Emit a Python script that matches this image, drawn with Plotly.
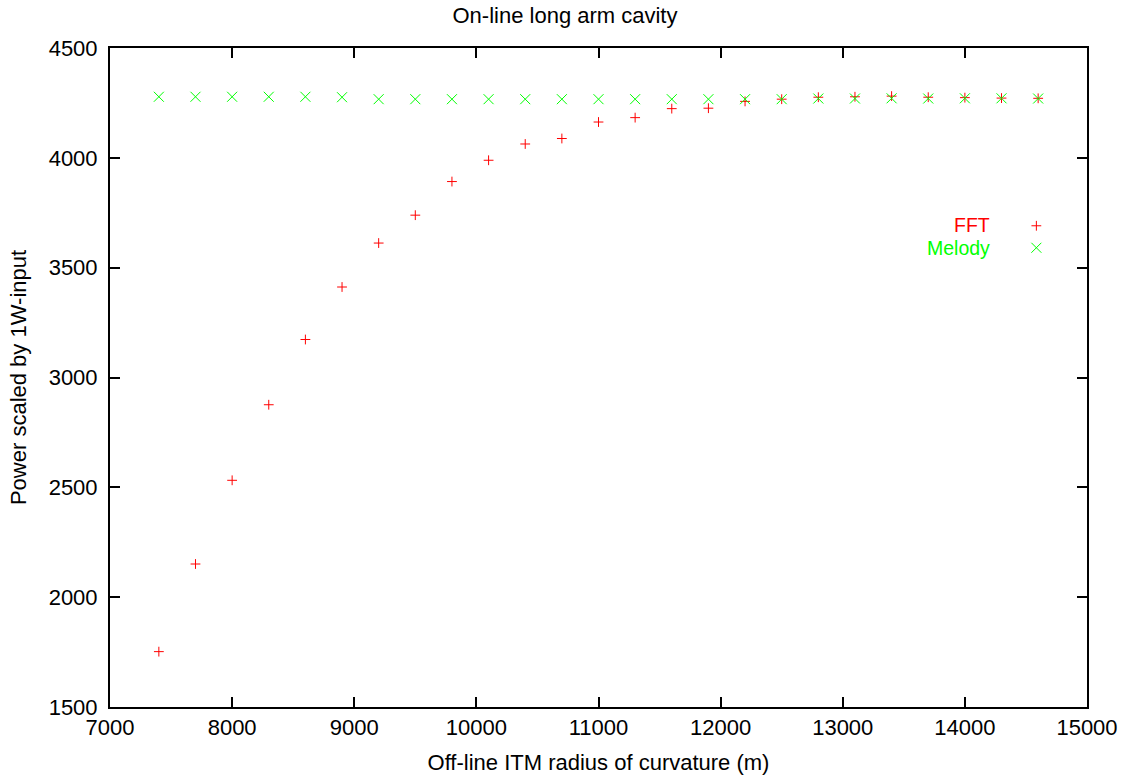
import plotly.graph_objects as go

# Data
radius_m = [7400, 7700, 8000, 8300, 8600, 8900, 9200, 9500, 9800, 10100,
            10400, 10700, 11000, 11300, 11600, 11900, 12200, 12500, 12800,
            13100, 13400, 13700, 14000, 14300, 14600]
fft_power = [1752, 2151, 2532, 2876, 3173, 3412, 3612, 3739, 3892, 3989,
             4063, 4088, 4163, 4183, 4224, 4226, 4257, 4267, 4276,
             4278, 4281, 4276, 4274, 4272, 4271]
melody_power = [4278, 4278, 4278, 4278, 4278, 4276, 4267, 4267, 4267, 4267,
                4267, 4267, 4267, 4267, 4267, 4267, 4267, 4267, 4270,
                4270, 4271, 4270, 4271, 4271, 4270]
series_names = ["FFT", "Melody"]
series_colors = ["#ff0000", "#00ff00"]
series_symbols = ["cross-thin", "x-thin"]
series_sizes = [7, 10]

FONT = "Liberation Sans, Arial, Helvetica, sans-serif"
FS = 22

fig = go.Figure()
for name, yv, col, sym, sz in zip(series_names, [fft_power, melody_power],
                                  series_colors, series_symbols, series_sizes):
    fig.add_trace(go.Scatter(
        x=radius_m, y=yv, mode="markers", name=name, showlegend=False,
        marker=dict(symbol=sym, size=sz, color=col, line=dict(color=col, width=1)),
    ))
    # legend sample (symbol only; label drawn as right-aligned text, gnuplot style)
    fig.add_trace(go.Scatter(
        x=[None], y=[None], mode="markers", name=" ", showlegend=True,
        hoverinfo="skip",
        marker=dict(symbol=sym, size=sz, color=col, line=dict(color=col, width=1)),
    ))

axis_common = dict(
    showline=True, linecolor="black", linewidth=2, mirror="ticks",
    ticks="inside", ticklen=10, tickwidth=1.5, tickcolor="black",
    showgrid=False, zeroline=False, tickformat="d",
    tickfont=dict(family=FONT, size=FS, color="black"),
)

fig.update_layout(
    width=1130, height=783,
    margin=dict(l=110, r=38, t=48, b=75),
    paper_bgcolor="white", plot_bgcolor="white",
    font=dict(family=FONT, size=FS, color="black"),
    title=dict(text="On-line long arm cavity", x=0.5, xanchor="center",
               y=1 - 15.5 / 783, yanchor="middle",
               font=dict(family=FONT, size=FS, color="black")),
    xaxis=dict(range=[7000, 15000], dtick=1000, tick0=7000,
               title=dict(text="Off-line ITM radius of curvature (m)",
                          font=dict(family=FONT, size=FS, color="black"),
                          standoff=15),
               **axis_common),
    yaxis=dict(range=[1500, 4500], dtick=500, tick0=1500,
               ticklabelstandoff=6,
               title=dict(text="Power scaled by 1W-input",
                          font=dict(family=FONT, size=FS, color="black"),
                          standoff=16),
               **axis_common),
    legend=dict(x=0.9277, xanchor="left", y=0.7545, yanchor="top",
                bgcolor="rgba(0,0,0,0)", borderwidth=0,
                font=dict(family=FONT, size=14.6), itemwidth=30,
                tracegroupgap=0),
    showlegend=True,
)

legend_y = [1 - (225.2 - 48) / 660, 1 - (248.5 - 48) / 660]
for name, col, yy in zip(series_names, series_colors, legend_y):
    fig.add_annotation(text=name, xref="paper", yref="paper",
                       x=(996.5 - 110) / 982, y=yy, xanchor="right",
                       yanchor="middle", showarrow=False,
                       font=dict(family=FONT, size=19.5, color=col))

fig.write_html("out.html")
